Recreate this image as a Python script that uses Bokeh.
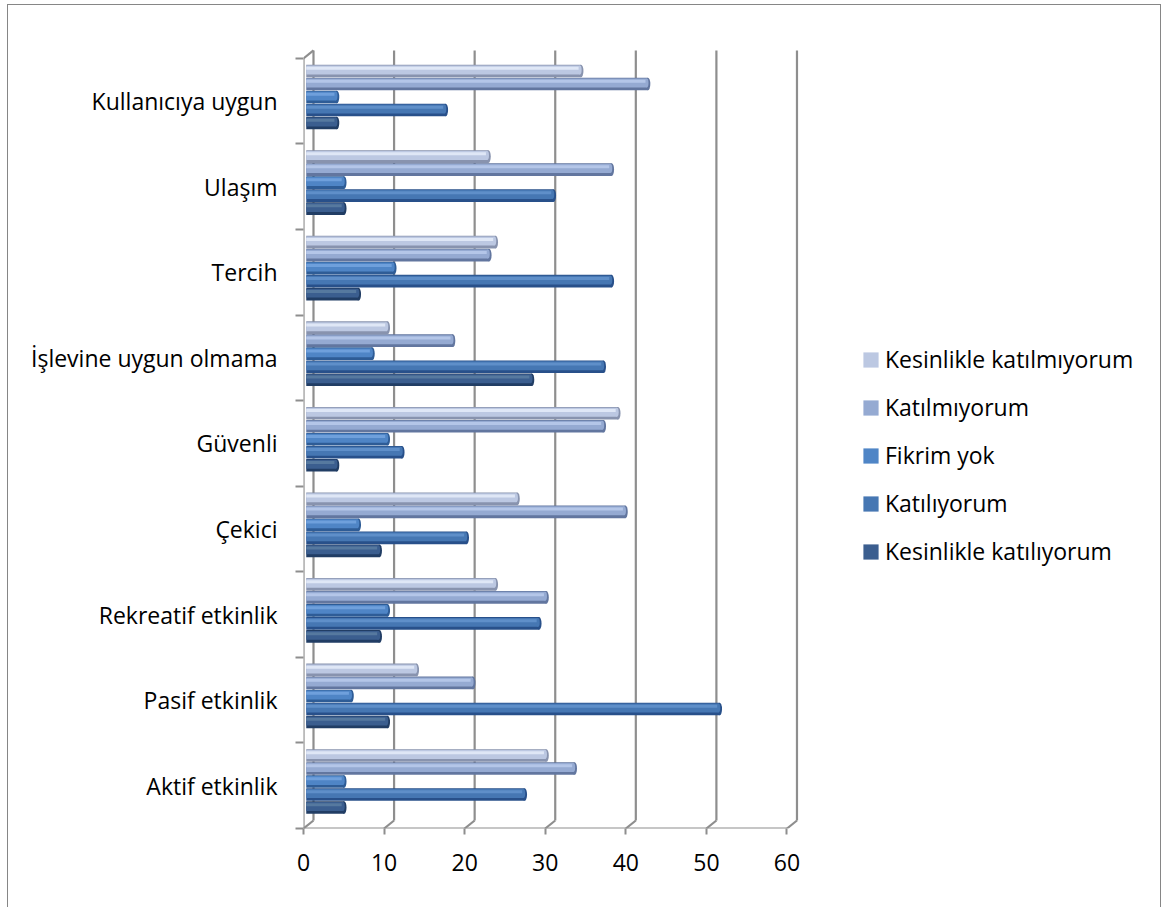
from bokeh.plotting import figure
from bokeh.models import Range1d, FixedTicker, Legend, LegendItem
from bokeh.embed import file_html
from bokeh.resources import INLINE

# ---------------- data ----------------
categories = ["Aktif etkinlik", "Pasif etkinlik", "Rekreatif etkinlik", "Çekici", "Güvenli",
              "İşlevine uygun olmama", "Tercih", "Ulaşım", "Kullanıcıya uygun"]
series_names = ["Kesinlikle katılıyorum", "Katılıyorum", "Fikrim yok",
                "Katılmıyorum", "Kesinlikle katılmıyorum"]
kesinlikle_katiliyorum = [4.7, 10.1, 9.1, 9.1, 3.8, 28.0, 6.5, 4.7, 3.8]
katiliyorum = [27.1, 51.3, 28.9, 19.9, 11.9, 36.9, 37.9, 30.7, 17.3]
fikrim_yok = [4.7, 5.6, 10.1, 6.5, 10.1, 8.2, 10.9, 4.7, 3.8]
katilmiyorum = [33.3, 20.7, 29.8, 39.6, 36.9, 18.2, 22.7, 37.9, 42.4]
kesinlikle_katilmiyorum = [29.8, 13.7, 23.5, 26.2, 38.7, 10.1, 23.5, 22.6, 34.1]
x_ticks = [0, 10, 20, 30, 40, 50, 60]

series_values = [kesinlikle_katiliyorum, katiliyorum, fikrim_yok, katilmiyorum, kesinlikle_katilmiyorum]

# ---------------- styles ----------------
base_col = ["#3B5E8F", "#4677B3", "#4F85C6", "#95AAD2", "#BCC8E2"]
dark_col = ["#213D64", "#28508A", "#2E5C96", "#62769F", "#8893AE"]
light_col = ["#56799F", "#5F8FC9", "#6FA0DC", "#B4C6E8", "#DFE7F6"]
grid_col = "#8E8E8E"
FONT = "Open Sans"
FSIZE = "23px"

n_cat = len(categories)
dx = 1.24      # oblique depth offset (x units)
dy = 0.0935    # oblique depth offset (y units)
bar_left = 0.34
bar_h = 0.148
first_off = 0.245
step = 0.152

p = figure(width=1154, height=903, output_backend="svg", toolbar_location=None,
           x_range=Range1d(0, 106.6), y_range=Range1d(0, 9.151),
           min_border_left=295, min_border_right=0, min_border_top=40, min_border_bottom=80)
p.styles = {"border-top": "1px solid #868686", "border-left": "1px solid #868686",
            "border-right": "1px solid #868686", "margin-left": "7px", "margin-top": "4px"}
p.outline_line_color = None
p.xgrid.visible = False
p.ygrid.visible = False
p.background_fill_color = "white"
p.border_fill_color = "white"

# walls, floor and gridlines (oblique 3D look)
p.segment(x0=[t + dx for t in x_ticks], y0=[dy] * len(x_ticks),
          x1=[t + dx for t in x_ticks], y1=[n_cat + dy] * len(x_ticks),
          line_color=grid_col, line_width=2.2)
p.segment(x0=x_ticks, y0=[0] * len(x_ticks), x1=[t + dx for t in x_ticks], y1=[dy] * len(x_ticks),
          line_color=grid_col, line_width=2.2)
p.segment(x0=[x_ticks[0]], y0=[0], x1=[x_ticks[-1]], y1=[0], line_color=grid_col, line_width=2.2)
p.segment(x0=[x_ticks[0]], y0=[0], x1=[x_ticks[0]], y1=[n_cat], line_color=grid_col, line_width=2.2)
p.segment(x0=[x_ticks[0]], y0=[n_cat], x1=[x_ticks[0] + dx], y1=[n_cat + dy],
          line_color=grid_col, line_width=2.2)

legend_items = []
for j, vals in enumerate(series_values):
    ys = [i + first_off + step * j for i in range(n_cat)]
    rights = [bar_left + v for v in vals]
    p.hbar(y=ys, left=bar_left, right=rights, height=bar_h, fill_color=dark_col[j], line_color=None)
    p.ellipse(x=rights, y=ys, width=0.6, height=bar_h, fill_color=dark_col[j], line_color=None)
    body = p.hbar(y=[y + 0.012 for y in ys], left=bar_left, right=[r - 0.15 for r in rights],
                  height=0.105, fill_color=base_col[j], line_color=None)
    p.ellipse(x=[r - 0.15 for r in rights], y=[y + 0.012 for y in ys], width=0.45, height=0.105,
              fill_color=base_col[j], line_color=None)
    p.hbar(y=[y + 0.032 for y in ys], left=bar_left, right=[r - 0.3 for r in rights],
           height=0.035, fill_color=light_col[j], line_color=None)
    legend_items.append(LegendItem(label=series_names[j], renderers=[body]))

legend = Legend(items=list(reversed(legend_items)), location=(558, 261),
                glyph_width=19, glyph_height=19, label_height=19, spacing=16,
                label_standoff=5, padding=0, margin=0, border_line_color=None,
                background_fill_alpha=0,
                label_text_font=FONT, label_text_font_size=FSIZE, label_text_color="#000000")
p.add_layout(legend, "center")

# x axis
p.xaxis.ticker = FixedTicker(ticks=x_ticks)
p.xaxis.axis_line_color = None
p.xaxis.major_tick_line_color = grid_col
p.xaxis.major_tick_line_width = 2
p.xaxis.major_tick_out = 6
p.xaxis.major_tick_in = 0
p.xaxis.minor_tick_line_color = None
p.xaxis.major_label_text_font = FONT
p.xaxis.major_label_text_font_size = FSIZE
p.xaxis.major_label_text_color = "#000000"
p.xaxis.major_label_standoff = 19

# y axis (category names between boundary ticks)
p.yaxis.ticker = FixedTicker(ticks=[i + 0.5 for i in range(n_cat)],
                             minor_ticks=list(range(n_cat + 1)))
p.yaxis.major_label_overrides = {i + 0.5: c for i, c in enumerate(categories)}
p.yaxis.axis_line_color = None
p.yaxis.major_tick_line_color = None
p.yaxis.major_tick_out = 0
p.yaxis.major_tick_in = 0
p.yaxis.minor_tick_line_color = grid_col
p.yaxis.minor_tick_line_width = 2
p.yaxis.minor_tick_out = 8
p.yaxis.minor_tick_in = 0
p.yaxis.major_label_text_font = FONT
p.yaxis.major_label_text_font_size = FSIZE
p.yaxis.major_label_text_color = "#000000"
p.yaxis.major_label_standoff = 18

open("out.html", "w").write(file_html(p, INLINE))
